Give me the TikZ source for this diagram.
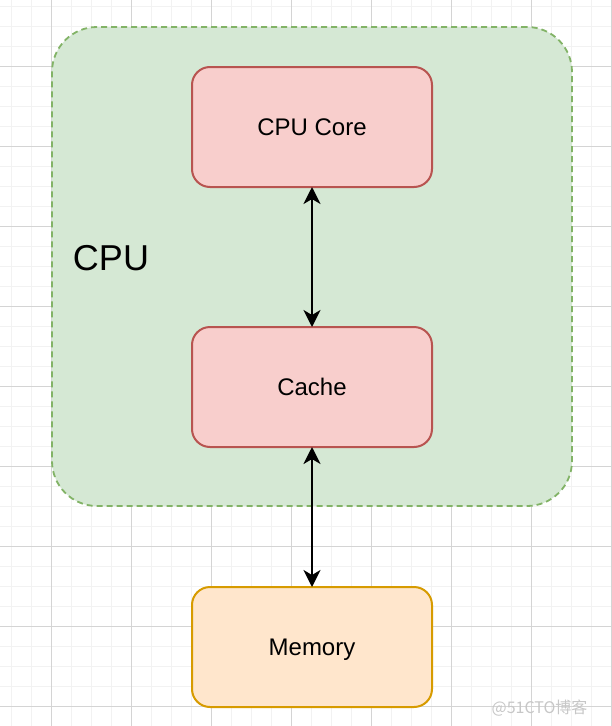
\documentclass[tikz,border=0pt]{standalone}
\usepackage{fontspec}
\setmainfont{Liberation Sans}
\newfontfamily\cjk{Noto Sans CJK SC}
\usetikzlibrary{positioning,arrows.meta}

\definecolor{cpufill}{HTML}{D5E8D4}
\definecolor{cpuline}{HTML}{82B366}
\definecolor{redfill}{HTML}{F8CECC}
\definecolor{redline}{HTML}{B85450}
\definecolor{memfill}{HTML}{FFE6CC}
\definecolor{memline}{HTML}{D79B00}

\begin{document}
\begin{tikzpicture}[
		x=1pt, y=-1pt,
		minorgrid/.style = {draw=black!5, line width=1pt},
		majorgrid/.style = {draw=black!17, line width=1pt},
		box/.style = {
			draw, rectangle, rounded corners=18pt,
			line width=2pt, outer sep=0pt,
			minimum width=240pt,
			minimum height=120pt,
			text height=21pt, text depth=5pt,
			font=\fontsize{24}{28}\selectfont
		},
		cachebox/.style = {box, fill=redfill, draw=redline},
		membox/.style = {box, fill=memfill, draw=memline},
		link/.style = {<->, line width=2.4pt, >={Stealth[length=17pt,width=17pt,inset=5pt]}},
		node distance=140pt
		]
		\useasboundingbox (0,0) rectangle (611,726);
		\fill[white] (0,0) rectangle (611,726);
		% grid
		\foreach \gx in {11,31,...,611} \draw[minorgrid] (\gx,0) -- (\gx,726);
		\foreach \gy in {6,26,...,726} \draw[minorgrid] (0,\gy) -- (611,\gy);
		\foreach \gx in {51,131,...,611} \draw[majorgrid] (\gx,0) -- (\gx,726);
		\foreach \gy in {66,146,...,726} \draw[majorgrid] (0,\gy) -- (611,\gy);

		\node (cpu) at (312,266.5) [draw=cpuline, fill=cpufill, dashed, dash pattern=on 6pt off 4pt,
			line width=1.8pt, rounded corners=45pt, minimum width=520pt, minimum height=479pt] {};
		\node (cpulabel) at (111,258) {\fontsize{36}{42}\selectfont CPU};

		\node[cachebox] (core) at (312,127) {CPU Core};
		\node[cachebox, below=of core] (cache) {Cache};
		\node[membox, below=of cache] (memory) {Memory};

		\draw[link] (core.south) -- (cache.north);
		\draw[link] (cache.south) -- (memory.north);

		\node[text=black!22, anchor=east] (mark) at (591,708) {\cjk\fontsize{16}{19}\selectfont @51CTO博客};
	\end{tikzpicture}
\end{document}
